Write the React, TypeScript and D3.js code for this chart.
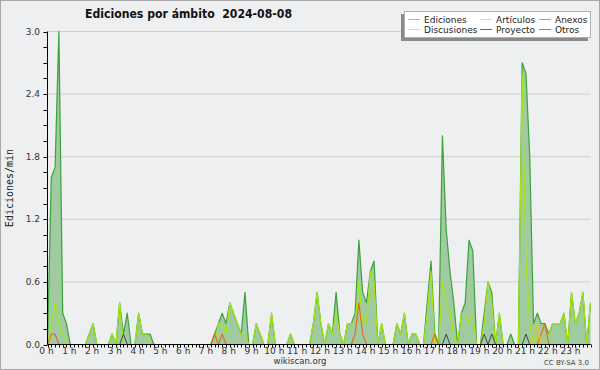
import React from 'react';
import * as d3 from 'd3';

// 10-minute bins, values in edits/min
const ediciones = [
  0, 1.6, 1.7, 3.0, 0.3, 0.2, 0, 0, 0, 0, 0, 0.1,
  0.2, 0, 0, 0, 0, 0.1, 0, 0.4, 0.1, 0.3, 0, 0,
  0.3, 0.1, 0.1, 0.1, 0, 0, 0, 0, 0, 0, 0, 0,
  0, 0, 0, 0, 0, 0, 0, 0, 0.1, 0.2, 0.3, 0.2,
  0.4, 0.3, 0.2, 0.1, 0.5, 0, 0, 0.2, 0.1, 0, 0, 0.3,
  0, 0, 0, 0, 0.1, 0, 0, 0, 0, 0, 0.2, 0.5,
  0.2, 0, 0.2, 0.1, 0.5, 0.1, 0, 0.2, 0.2, 0.3, 1.0, 0.5,
  0.4, 0.7, 0.8, 0, 0.2, 0, 0, 0, 0.2, 0.1, 0.3, 0,
  0.1, 0.1, 0, 0, 0.4, 0.8, 0.1, 0, 2.0, 1.1, 0.7, 0.4,
  0, 0.3, 0.4, 1.0, 0.9, 0, 0, 0.3, 0.6, 0.5, 0, 0.3,
  0, 0, 0.1, 0, 0, 2.7, 2.6, 1.8, 0.2, 0.3, 0.2, 0.2,
  0.1, 0.2, 0.2, 0.2, 0.3, 0, 0.5, 0.2, 0.3, 0.5, 0, 0.4,
];

const articulos = [
  0, 0.2, 0.4, 0.2, 0.1, 0, 0, 0, 0, 0, 0, 0.1,
  0.2, 0, 0, 0, 0, 0.1, 0, 0.4, 0, 0, 0, 0,
  0.3, 0.1, 0.1, 0, 0, 0, 0, 0, 0, 0, 0, 0,
  0, 0, 0, 0, 0, 0, 0, 0, 0, 0.2, 0.2, 0.1,
  0.4, 0.3, 0.2, 0.1, 0.1, 0, 0, 0.2, 0.1, 0, 0, 0.3,
  0, 0, 0, 0, 0.1, 0, 0, 0, 0, 0, 0.2, 0.5,
  0.2, 0, 0.2, 0.1, 0.3, 0.1, 0, 0.2, 0.2, 0.2, 0.6, 0.2,
  0.2, 0.7, 0.6, 0, 0.2, 0, 0, 0, 0.2, 0.1, 0.3, 0,
  0.1, 0.1, 0, 0, 0.3, 0.7, 0, 0, 0.6, 0.4, 0.3, 0.1,
  0, 0.3, 0.3, 0.2, 0.3, 0, 0, 0.2, 0.6, 0.4, 0, 0.3,
  0, 0, 0, 0, 0, 2.6, 0.8, 0.2, 0, 0.1, 0, 0,
  0.1, 0.2, 0.2, 0.2, 0.3, 0, 0.5, 0.2, 0.3, 0.5, 0, 0.4,
];

const anexos = [
  0, 0.1, 0.1, 0, 0, 0, 0, 0, 0, 0, 0, 0,
  0, 0, 0, 0, 0, 0, 0, 0, 0, 0, 0, 0,
  0, 0, 0, 0, 0, 0, 0, 0, 0, 0, 0, 0,
  0, 0, 0, 0, 0, 0, 0, 0, 0.1, 0, 0.1, 0,
  0, 0, 0, 0, 0, 0, 0, 0, 0, 0, 0, 0,
  0, 0, 0, 0, 0, 0, 0, 0, 0, 0, 0, 0,
  0, 0, 0, 0, 0, 0, 0, 0, 0, 0.1, 0.4, 0.1,
  0, 0, 0, 0, 0, 0, 0, 0, 0, 0, 0, 0,
  0, 0, 0, 0, 0, 0, 0.1, 0, 0, 0, 0, 0,
  0, 0, 0, 0, 0, 0, 0, 0, 0, 0, 0, 0,
  0, 0, 0, 0, 0, 0, 0, 0, 0, 0, 0.1, 0.2,
  0, 0, 0, 0, 0, 0, 0, 0, 0, 0, 0, 0,
];

const discusiones = [
  0, 0, 0, 0, 0, 0, 0, 0, 0, 0, 0, 0,
  0, 0, 0, 0, 0, 0, 0, 0, 0, 0, 0, 0,
  0, 0, 0, 0, 0, 0, 0, 0, 0, 0, 0, 0,
  0, 0, 0, 0, 0, 0, 0, 0, 0, 0, 0, 0,
  0, 0, 0, 0, 0, 0, 0, 0, 0, 0, 0, 0,
  0, 0, 0, 0, 0, 0, 0, 0, 0, 0, 0, 0,
  0, 0, 0, 0, 0, 0, 0, 0, 0, 0, 0, 0,
  0, 0, 0, 0, 0, 0, 0, 0, 0, 0, 0, 0,
  0, 0, 0, 0, 0, 0, 0, 0, 0, 0, 0, 0,
  0, 0, 0, 0, 0, 0, 0, 0, 0, 0, 0, 0,
  0, 0, 0, 0, 0, 0, 0, 0, 0.1, 0.2, 0, 0,
  0, 0, 0, 0, 0, 0, 0, 0, 0, 0, 0, 0,
];

const proyecto = [
  0, 0, 0, 0, 0, 0, 0, 0, 0, 0, 0, 0,
  0, 0, 0, 0, 0, 0, 0, 0, 0.1, 0, 0, 0,
  0, 0, 0, 0, 0, 0, 0, 0, 0, 0, 0, 0,
  0, 0, 0, 0, 0, 0, 0, 0, 0, 0, 0, 0,
  0, 0, 0, 0, 0, 0, 0, 0, 0, 0, 0, 0,
  0, 0, 0, 0, 0, 0, 0, 0, 0, 0, 0, 0,
  0, 0, 0, 0, 0, 0, 0, 0, 0, 0, 0, 0,
  0, 0, 0, 0, 0, 0, 0, 0, 0, 0, 0, 0,
  0, 0, 0, 0, 0, 0, 0, 0, 0, 0.1, 0, 0,
  0, 0, 0, 0, 0, 0, 0, 0.1, 0, 0.1, 0, 0,
  0, 0, 0, 0, 0, 0, 0.1, 0, 0, 0, 0, 0,
  0, 0, 0, 0, 0, 0, 0, 0, 0, 0, 0, 0,
];

const otros = new Array(144).fill(0);

const hourLabels = d3.range(24).map((h) => `${h} h`);
const yTickValues = [0, 0.6, 1.2, 1.8, 2.4, 3.0];

const TITLE = 'Ediciones por ámbito  2024-08-08';

const series = [
  { name: 'Ediciones', data: ediciones, color: '#3ba23b', legend: '#8fd08f', width: 1.2 },
  { name: 'Artículos', data: articulos, color: '#a6e80c', legend: '#d2ef6a', width: 1.1 },
  { name: 'Anexos', data: anexos, color: '#f0601c', legend: '#f08a5a', width: 1.1 },
  { name: 'Discusiones', data: discusiones, color: '#f2c01e', legend: '#f6d866', width: 1.1 },
  { name: 'Proyecto', data: proyecto, color: '#444444', legend: '#666666', width: 1.0 },
  { name: 'Otros', data: otros, color: '#9a4cf0', legend: '#9a5cf0', width: 1.0 },
];

export default function App() {
  const W = 600;
  const H = 370;
  const N = ediciones.length;
  const x = d3.scaleLinear().domain([0, N - 1]).range([47.5, 590.5]);
  const y = d3.scaleLinear().domain([0, 3]).range([344.5, 31.5]);
  const line = d3.line<number>().x((_, i) => x(i)).y((d) => y(d));
  const area = d3.area<number>().x((_, i) => x(i)).y0(y(0)).y1((d) => y(d));
  const minorY = d3.range(0, 21).map((k) => k * 0.15);
  const xTicks = d3.range(0, N);

  const legendItems = [
    { s: series[0], lx: 408, tx: 424, row: 0 },
    { s: series[3], lx: 408, tx: 424, row: 1 },
    { s: series[1], lx: 480, tx: 496, row: 0 },
    { s: series[4], lx: 480, tx: 496, row: 1 },
    { s: series[2], lx: 539, tx: 555, row: 0 },
    { s: series[5], lx: 539, tx: 555, row: 1 },
  ];

  return (
    <svg
      width={W}
      height={H}
      style={{ position: 'absolute', left: 0, top: 0, display: 'block' }}
      fontFamily="DejaVu Sans"
    >
      <rect x={0} y={0} width={W} height={H} fill="#eeeff1" />
      <rect x={0.5} y={0.5} width={W - 1} height={H - 1} fill="none" stroke="#a8a8a8" />

      {/* gridlines */}
      {yTickValues.filter((v) => v > 0).map((v) => (
        <line key={'g' + v} x1={x(0)} x2={x(N - 1)} y1={y(v)} y2={y(v)} stroke="#cfcfcf" strokeWidth={1} />
      ))}

      {/* Ediciones area */}
      <path d={area(ediciones) || ''} fill="#a0cba0" />

      {/* lines */}
      {series.map((s) => (
        <path key={s.name} d={line(s.data) || ''} fill="none" stroke={s.color} strokeWidth={s.width} strokeLinejoin="round" />
      ))}

      {/* axes */}
      <line x1={x(0)} x2={x(0)} y1={y(3)} y2={y(0)} stroke="#000" />
      <line x1={x(0)} x2={x(N - 1)} y1={y(0)} y2={y(0)} stroke="#000" />
      {minorY.map((v) => (
        <line key={'ym' + v} x1={x(0) - 4} x2={x(0)} y1={Math.round(y(v)) + 0.5} y2={Math.round(y(v)) + 0.5} stroke="#000" />
      ))}
      {yTickValues.map((v) => (
        <text key={'yl' + v} x={40} y={y(v) + 3} fontSize={9} textAnchor="end" fill="#333">
          {v.toFixed(1)}
        </text>
      ))}
      {xTicks.map((i) => (
        <line key={'xt' + i} x1={Math.round(x(i)) + 0.5} x2={Math.round(x(i)) + 0.5} y1={y(0)} y2={y(0) + 3} stroke="#000" />
      ))}
      {hourLabels.map((lab, h) => (
        <text key={lab} x={x(h * 6) - 1} y={354} fontSize={9} textAnchor="middle" fill="#333">
          {lab}
        </text>
      ))}

      {/* title */}
      <text x={85} y={18} fontSize={12} fontWeight="bold" fill="#111" textLength={207} lengthAdjust="spacingAndGlyphs" style={{ whiteSpace: 'pre' }}>
        {TITLE}
      </text>

      {/* y axis title */}
      <text
        transform="translate(13,188) rotate(-90)"
        fontFamily="DejaVu Sans Mono"
        fontSize={10}
        textAnchor="middle"
        fill="#222"
      >
        Ediciones/min
      </text>

      {/* footer */}
      <text x={300} y={364} fontSize={8.5} textAnchor="middle" fill="#333">wikiscan.org</text>
      <text x={589} y={365} fontSize={7} textAnchor="end" fill="#444">CC BY-SA 3.0</text>

      {/* legend */}
      <rect x={401} y={14} width={187} height={27} fill="#8a8a8a" />
      <rect x={404.5} y={11.5} width={186} height={26} fill="#ffffff" stroke="#b0b0b0" />
      {legendItems.map((it) => {
        const ly = it.row === 0 ? 19.5 : 29.5;
        return (
          <g key={'lg' + it.s.name}>
            <line x1={it.lx} x2={it.lx + 12} y1={ly} y2={ly} stroke={it.s.legend} strokeWidth={1} />
            <text x={it.tx} y={ly + 3.2} fontSize={9} fill="#222">
              {it.s.name}
            </text>
          </g>
        );
      })}
    </svg>
  );
}
